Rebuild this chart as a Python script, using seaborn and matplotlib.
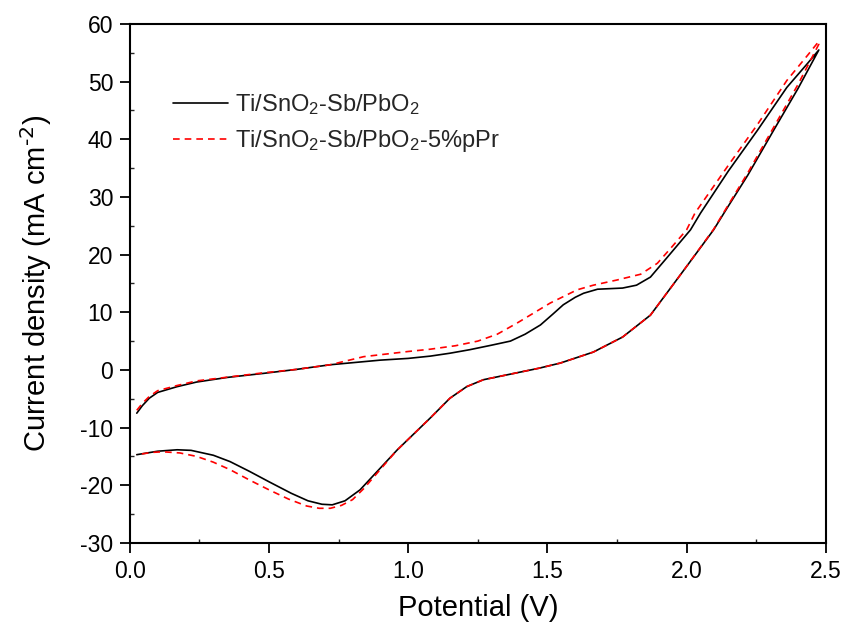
import matplotlib
matplotlib.use('Agg')
import matplotlib.pyplot as plt
import pandas as pd
import seaborn as sns
import numpy as np
from matplotlib.ticker import MultipleLocator

sns.set_style('white')
plt.rcParams['font.family'] = ['Liberation Sans', 'DejaVu Sans']
plt.rcParams['mathtext.default'] = 'regular'
plt.rcParams['axes.unicode_minus'] = False

# Ti/SnO2-Sb/PbO2 : anodic (upper) branch then cathodic (lower) branch
pb_fwd_x = [0.025, 0.045, 0.07, 0.1, 0.17, 0.24, 0.35, 0.48, 0.6, 0.72, 0.9, 1.0, 1.08, 1.15,
            1.22, 1.3, 1.367, 1.42, 1.475, 1.52, 1.557, 1.6, 1.63, 1.68, 1.77, 1.82, 1.87, 1.93,
            2.014, 2.05, 2.15, 2.255, 2.36, 2.435, 2.475]
pb_fwd_y = [-7.5, -6.2, -4.9, -3.9, -2.9, -2.1, -1.3, -0.6, 0.1, 0.9, 1.7, 2.0, 2.4, 2.9,
            3.5, 4.3, 5.0, 6.2, 7.8, 9.7, 11.3, 12.6, 13.3, 14.0, 14.2, 14.7, 16.1, 19.5,
            24.3, 27.2, 34.5, 41.6, 49.0, 53.2, 55.5]
pb_rev_x = [2.475, 2.4, 2.313, 2.22, 2.147, 2.097, 1.99, 1.87, 1.77, 1.665, 1.547, 1.47, 1.39,
            1.33, 1.27, 1.21, 1.15, 1.08, 0.96, 0.827, 0.773, 0.727, 0.69, 0.64, 0.58, 0.5,
            0.43, 0.36, 0.3, 0.22, 0.17, 0.1, 0.025]
pb_rev_y = [55.5, 48.8, 41.6, 33.8, 28.2, 24.3, 17.3, 9.5, 5.7, 3.1, 1.2, 0.3, -0.5,
            -1.1, -1.7, -2.9, -4.9, -8.3, -13.9, -20.8, -22.7, -23.4, -23.3, -22.7, -21.4, -19.4,
            -17.6, -15.9, -14.8, -13.95, -13.85, -14.1, -14.7]

# Ti/SnO2-Sb/PbO2-5%pPr
ppr_fwd_x = [0.025, 0.045, 0.07, 0.1, 0.17, 0.24, 0.36, 0.48, 0.6, 0.72, 0.84, 1.0, 1.08, 1.17,
             1.25, 1.32, 1.39, 1.51, 1.607, 1.665, 1.75, 1.835, 1.895, 1.95, 2.0, 2.03, 2.15,
             2.255, 2.36, 2.435, 2.475]
ppr_fwd_y = [-7.0, -5.8, -4.6, -3.6, -2.7, -1.9, -1.2, -0.5, 0.1, 0.9, 2.3, 3.2, 3.6, 4.2,
             5.0, 6.2, 8.1, 11.6, 13.9, 14.7, 15.6, 16.6, 18.5, 21.5, 24.3, 27.2, 35.5,
             42.6, 50.2, 54.6, 57.0]
ppr_rev_x = [2.475, 2.4, 2.313, 2.22, 2.147, 2.097, 1.99, 1.87, 1.77, 1.665, 1.547, 1.47, 1.39,
             1.33, 1.27, 1.21, 1.15, 1.08, 0.96, 0.84, 0.8, 0.76, 0.72, 0.68, 0.635, 0.57,
             0.5, 0.43, 0.36, 0.3, 0.24, 0.18, 0.12, 0.08, 0.025]
ppr_rev_y = [56.5, 49.5, 42.1, 34.2, 28.4, 24.4, 17.3, 9.5, 5.7, 3.1, 1.2, 0.3, -0.5,
             -1.1, -1.7, -2.9, -4.9, -8.3, -13.9, -20.6, -22.5, -23.5, -24.0, -24.0, -23.6, -22.4,
             -20.8, -19.1, -17.3, -16.0, -15.0, -14.4, -14.2, -14.3, -14.7]

labels = ['Ti/SnO$_2$-Sb/PbO$_2$', 'Ti/SnO$_2$-Sb/PbO$_2$-5%pPr']

df_pb = pd.DataFrame({'E': pb_fwd_x + pb_rev_x, 'j': pb_fwd_y + pb_rev_y})
df_ppr = pd.DataFrame({'E': ppr_fwd_x + ppr_rev_x, 'j': ppr_fwd_y + ppr_rev_y})

fig = plt.figure(figsize=(8.43, 6.32), dpi=100)
ax = fig.add_axes([0.154, 0.141, 0.8256, 0.821])

sns.lineplot(data=df_pb, x='E', y='j', sort=False, estimator=None, color='black',
             linewidth=1.2, label=labels[0], ax=ax)
sns.lineplot(data=df_ppr, x='E', y='j', sort=False, estimator=None, color='red',
             linewidth=1.2, linestyle=(0, (4, 3)), label=labels[1], ax=ax)

ax.set_xlim(0, 2.5)
ax.set_ylim(-30, 60)
ax.xaxis.set_major_locator(MultipleLocator(0.5))
ax.xaxis.set_minor_locator(MultipleLocator(0.25))
ax.yaxis.set_major_locator(MultipleLocator(10))
ax.yaxis.set_minor_locator(MultipleLocator(5))
ax.xaxis.set_major_formatter(plt.FuncFormatter(lambda v, p: f'{v:.1f}'))

ax.tick_params(which='major', direction='out', length=7, width=1.3, labelsize=16.5,
               colors='black', bottom=True, left=True, top=False, right=False, pad=5)
ax.tick_params(which='minor', direction='in', length=3, width=1.0,
               bottom=True, left=True, top=False, right=False)
for s in ax.spines.values():
    s.set_color('black')
    s.set_linewidth(1.5)

ax.set_xlabel('Potential (V)', fontsize=21, color='black', labelpad=8)
ax.set_ylabel(r'Current density (mA cm$^{\text{-2}}$)', fontsize=21, color='black', labelpad=19)

ax.legend(loc='upper left', bbox_to_anchor=(0.062, 0.868), frameon=False, fontsize=17,
          handlelength=2.33, handletextpad=0.3, labelspacing=0.45, borderpad=0,
          borderaxespad=0)

fig.savefig('out.png', dpi=100)
